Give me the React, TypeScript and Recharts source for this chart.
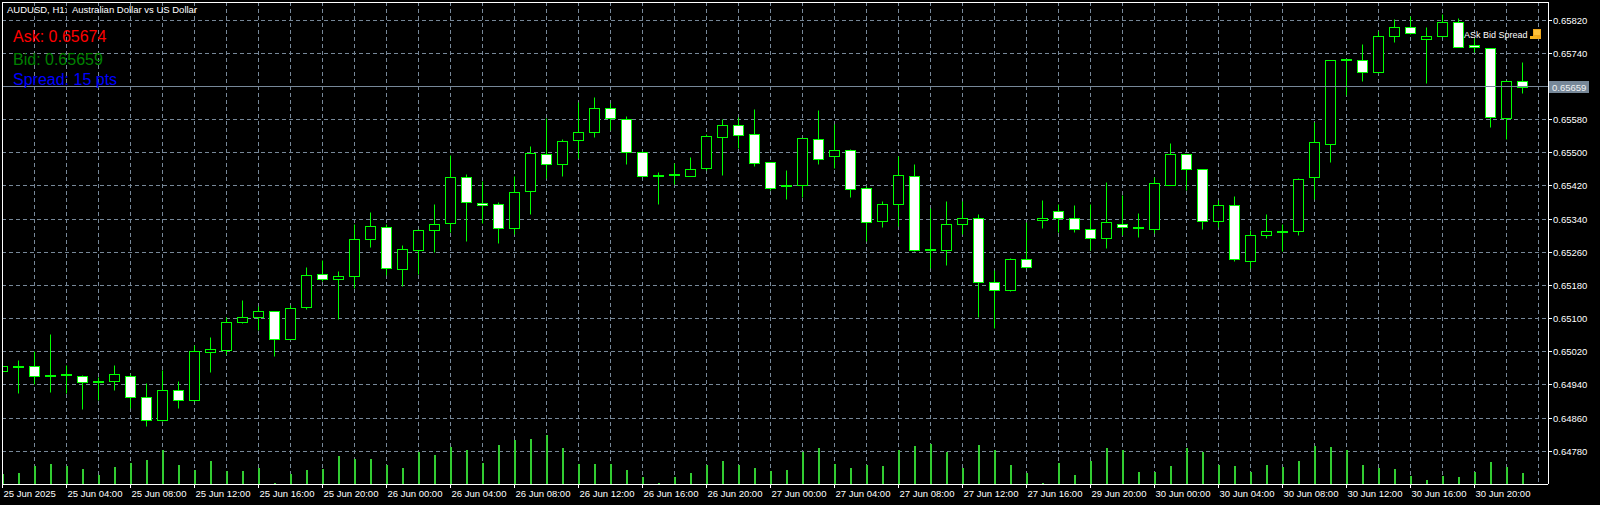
import React from 'react';
import { ComposedChart, Bar, XAxis, YAxis, CartesianGrid, ReferenceLine } from 'recharts';

// AUDUSD H1, 25 Jun 00:00 .. 30 Jun 23:00 (96 bars)
const OPEN = [
  0.64974, 0.64984, 0.64985, 0.64962, 0.64964, 0.64962, 0.64948, 0.64949, 0.64962, 0.64912, 0.64855, 0.64927,
  0.64903, 0.65019, 0.65025, 0.65091, 0.65103, 0.65118, 0.65052, 0.65127, 0.65207, 0.65195, 0.65203, 0.65293,
  0.65320, 0.65219, 0.65265, 0.65313, 0.65330, 0.65441, 0.65378, 0.65376, 0.65318, 0.65407, 0.65496, 0.65472,
  0.65530, 0.65549, 0.65607, 0.65581, 0.65501, 0.65444, 0.65446, 0.65445, 0.65462, 0.65537, 0.65566, 0.65544,
  0.65477, 0.65420, 0.65421, 0.65532, 0.65491, 0.65506, 0.65414, 0.65335, 0.65376, 0.65443, 0.65265, 0.65266,
  0.65327, 0.65342, 0.65188, 0.65168, 0.65243, 0.65337, 0.65359, 0.65342, 0.65315, 0.65294, 0.65329, 0.65319,
  0.65317, 0.65423, 0.65496, 0.65460, 0.65335, 0.65373, 0.65240, 0.65301, 0.65310, 0.65311, 0.65442, 0.65522,
  0.65723, 0.65723, 0.65694, 0.65781, 0.65802, 0.65773, 0.65781, 0.65814, 0.65759, 0.65752, 0.65583, 0.65672,
];
const HIGH = [
  0.64991, 0.65000, 0.65022, 0.65063, 0.64988, 0.64963, 0.64960, 0.64988, 0.64967, 0.64944, 0.64975, 0.64950,
  0.65036, 0.65056, 0.65105, 0.65145, 0.65130, 0.65119, 0.65133, 0.65225, 0.65241, 0.65216, 0.65327, 0.65357,
  0.65327, 0.65278, 0.65316, 0.65376, 0.65495, 0.65448, 0.65432, 0.65381, 0.65443, 0.65516, 0.65584, 0.65532,
  0.65622, 0.65634, 0.65619, 0.65589, 0.65504, 0.65453, 0.65475, 0.65489, 0.65544, 0.65581, 0.65587, 0.65605,
  0.65478, 0.65458, 0.65536, 0.65603, 0.65569, 0.65509, 0.65420, 0.65384, 0.65492, 0.65473, 0.65366, 0.65384,
  0.65384, 0.65352, 0.65217, 0.65245, 0.65333, 0.65386, 0.65376, 0.65374, 0.65376, 0.65429, 0.65398, 0.65355,
  0.65442, 0.65523, 0.65497, 0.65461, 0.65385, 0.65396, 0.65314, 0.65352, 0.65328, 0.65440, 0.65573, 0.65724,
  0.65724, 0.65762, 0.65794, 0.65822, 0.65829, 0.65803, 0.65834, 0.65826, 0.65777, 0.65753, 0.65675, 0.65719,
];
const LOW = [
  0.64969, 0.64921, 0.64942, 0.64924, 0.64921, 0.64883, 0.64904, 0.64929, 0.64885, 0.64840, 0.64854, 0.64885,
  0.64902, 0.64972, 0.65015, 0.65090, 0.65073, 0.65011, 0.65051, 0.65123, 0.65191, 0.65098, 0.65173, 0.65272,
  0.65206, 0.65179, 0.65208, 0.65261, 0.65308, 0.65286, 0.65331, 0.65283, 0.65303, 0.65353, 0.65440, 0.65444,
  0.65487, 0.65539, 0.65555, 0.65474, 0.65444, 0.65377, 0.65424, 0.65444, 0.65458, 0.65446, 0.65511, 0.65468,
  0.65410, 0.65389, 0.65394, 0.65474, 0.65464, 0.65394, 0.65287, 0.65322, 0.65324, 0.65264, 0.65221, 0.65230,
  0.65305, 0.65105, 0.65077, 0.65167, 0.65223, 0.65319, 0.65308, 0.65310, 0.65265, 0.65271, 0.65302, 0.65298,
  0.65307, 0.65422, 0.65409, 0.65317, 0.65322, 0.65240, 0.65221, 0.65295, 0.65264, 0.65301, 0.65389, 0.65478,
  0.65639, 0.65673, 0.65693, 0.65768, 0.65787, 0.65669, 0.65780, 0.65755, 0.65742, 0.65563, 0.65534, 0.65645,
];
const CLOSE = [
  0.64986, 0.64984, 0.64961, 0.64962, 0.64964, 0.64947, 0.64948, 0.64966, 0.64910, 0.64855, 0.64927, 0.64905,
  0.65021, 0.65026, 0.65091, 0.65103, 0.65118, 0.65050, 0.65125, 0.65204, 0.65195, 0.65202, 0.65291, 0.65323,
  0.65221, 0.65267, 0.65313, 0.65327, 0.65441, 0.65381, 0.65373, 0.65318, 0.65405, 0.65499, 0.65472, 0.65528,
  0.65549, 0.65607, 0.65583, 0.65501, 0.65445, 0.65444, 0.65446, 0.65460, 0.65540, 0.65566, 0.65542, 0.65475,
  0.65414, 0.65420, 0.65535, 0.65486, 0.65506, 0.65412, 0.65332, 0.65376, 0.65446, 0.65265, 0.65265, 0.65327,
  0.65342, 0.65188, 0.65168, 0.65243, 0.65224, 0.65342, 0.65342, 0.65315, 0.65294, 0.65332, 0.65320, 0.65319,
  0.65426, 0.65496, 0.65460, 0.65335, 0.65373, 0.65243, 0.65301, 0.65311, 0.65310, 0.65436, 0.65525, 0.65723,
  0.65723, 0.65694, 0.65781, 0.65802, 0.65788, 0.65781, 0.65814, 0.65756, 0.65754, 0.65585, 0.65673, 0.65659,
];
const VOLUME = [
  1000, 1150, 1800, 2000, 1800, 1470, 950, 1670, 2100, 2400, 3400, 1880,
  1450, 2300, 1280, 1260, 1570, 150, 1050, 1360, 1470, 2800, 2500, 2500,
  1920, 1650, 3200, 2900, 3700, 3400, 2080, 3900, 4400, 4500, 4900, 3600,
  1970, 1970, 1970, 1440, 700, 150, 700, 1110, 1900, 2300, 1900, 1650,
  1330, 1440, 3200, 3600, 1970, 1650, 1900, 1760, 3400, 3800, 4000, 3200,
  1650, 3900, 3400, 1860, 1110, 100, 2080, 900, 2300, 3600, 3400, 1200,
  1200, 1800, 3600, 3200, 1930, 1800, 1200, 1900, 1730, 2300, 3800, 3700,
  3400, 1900, 1600, 1500, 800, 400, 800, 700, 1200, 2200, 1730, 1100,
];

const TICK_IDX = [0, 4, 8, 12, 16, 20, 24, 28, 32, 36, 40, 44, 48, 52, 56, 60, 64, 68, 72, 76, 80, 84, 88, 92];
const TICK_LABELS = [
  '25 Jun 2025', '25 Jun 04:00', '25 Jun 08:00', '25 Jun 12:00', '25 Jun 16:00', '25 Jun 20:00',
  '26 Jun 00:00', '26 Jun 04:00', '26 Jun 08:00', '26 Jun 12:00', '26 Jun 16:00', '26 Jun 20:00',
  '27 Jun 00:00', '27 Jun 04:00', '27 Jun 08:00', '27 Jun 12:00', '27 Jun 16:00', '29 Jun 20:00',
  '30 Jun 00:00', '30 Jun 04:00', '30 Jun 08:00', '30 Jun 12:00', '30 Jun 16:00', '30 Jun 20:00',
];
// 0.65660 is hidden under the bid tag
const PRICE_TICKS = [
  0.64780, 0.64860, 0.64940, 0.65020, 0.65100, 0.65180, 0.65260,
  0.65340, 0.65420, 0.65500, 0.65580, 0.65740, 0.65820,
];

const ASK = 0.65674;
const BID = 0.65659;
const SPREAD_PTS = 15;

const data = OPEN.map((o, i) => ({
  idx: i,
  open: o,
  high: HIGH[i],
  low: LOW[i],
  close: CLOSE[i],
  vol: VOLUME[i],
}));

// vertical grid every second bar
const GRID_IDX = Array.from({ length: 49 }, (_, k) => k * 2);

const X_MIN = -0.03125;
const X_MAX = 96.59375;
const Y_MIN = 0.647013;
const Y_MAX = 0.658634;
const VOL_MAX = 48200;

const green = '#00ff00';
const gridColor = '#778899';
const font = '"Liberation Sans", Arial, sans-serif';

const Candle = (props: any) => {
  const { x, y, width, height, payload } = props;
  if (x == null || !payload) return null;
  const cx = Math.floor(x + width / 2) + 0.5;
  const top = Math.min(y, y + height);
  const bot = Math.max(y, y + height);
  const { open, close, high, low } = payload;
  const toPx = (p: number) => top + ((high - p) / (high - low)) * (bot - top);
  const snap = (v: number) => Math.round(v) + 0.5;
  const yO = snap(toPx(open));
  const yC = snap(toPx(close));
  const bTop = Math.min(yO, yC);
  const bBot = Math.max(yO, yC);
  const bull = close > open;
  return (
    <g>
      <line x1={cx} x2={cx} y1={snap(top)} y2={snap(bot)} stroke={green} strokeWidth={1} />
      {bBot - bTop < 1 ? (
        <line x1={cx - 5.5} x2={cx + 5.5} y1={Math.round(toPx(open))} y2={Math.round(toPx(open))} stroke={green} strokeWidth={2} />
      ) : (
        <rect x={cx - 5} y={bTop} width={10} height={bBot - bTop} fill={bull ? '#000000' : '#ffffff'} stroke={green} strokeWidth={1} />
      )}
    </g>
  );
};

const VolBar = (props: any) => {
  const { x, y, width, height } = props;
  if (x == null) return null;
  const y0 = Math.round(y);
  const y1 = Math.round(y + height);
  return <rect x={Math.round(x + width / 2) - 1} y={y0} width={2} height={Math.max(1, y1 - y0)} fill="#32cd32" />;
};

const XTick = (props: any) => {
  const { x, y, payload } = props;
  const label = TICK_LABELS[TICK_IDX.indexOf(payload.value)];
  return (
    <text x={x + 1} y={y + 7} fill="#ffffff" fontSize={9.5} fontFamily={font}>
      {label}
    </text>
  );
};

const YTick = (props: any) => {
  const { x, y, payload } = props;
  return (
    <text x={x - 1} y={y + 3.5} fill="#ffffff" fontSize={9.5} fontFamily={font}>
      {Number(payload.value).toFixed(5)}
    </text>
  );
};

const BidTag = (props: any) => {
  const vb = props.viewBox;
  if (!vb) return null;
  const right = vb.x + vb.width;
  const yy = Math.round(vb.y);
  return (
    <g>
      <rect x={right + 1} y={yy - 6} width={40} height={12} fill="#778899" />
      <text x={right + 4} y={yy + 3.5} fill="#f2f2f2" fontSize={9.5} fontFamily={font}>
        {BID.toFixed(5)}
      </text>
    </g>
  );
};

const verticalGrid = (args: any) => {
  const xa = args && args.xAxis;
  if (xa && typeof xa.scale === 'function') return GRID_IDX.map((g) => xa.scale(g));
  const off = args.offset;
  return GRID_IDX.map((g) => off.left + ((g - X_MIN) / (X_MAX - X_MIN)) * off.width);
};

export default function App() {
  return (
    <div style={{ position: 'fixed', left: 0, top: 0, width: 1600, height: 505, background: '#000000', overflow: 'hidden' }}>
      <style>{`.recharts-cartesian-grid line, .recharts-reference-line line, .recharts-cartesian-axis line { shape-rendering: crispEdges; }`}</style>
      <ComposedChart width={1600} height={505} data={data} margin={{ top: 2, right: 0, bottom: 0, left: 2 }}>
        <CartesianGrid
          stroke={gridColor}
          strokeDasharray="4 3"
          verticalCoordinatesGenerator={verticalGrid}
        />
        <XAxis
          dataKey="idx"
          type="number"
          domain={[X_MIN, X_MAX]}
          allowDataOverflow
          ticks={TICK_IDX}
          interval={0}
          height={21}
          tickSize={4}
          stroke="#ffffff"
          axisLine={{ stroke: '#ffffff' }}
          tickLine={{ stroke: '#ffffff' }}
          tick={<XTick />}
        />
        <XAxis xAxisId="vx" dataKey="idx" type="number" domain={[X_MIN, X_MAX]} allowDataOverflow hide />
        <YAxis
          orientation="right"
          type="number"
          domain={[Y_MIN, Y_MAX]}
          allowDataOverflow
          ticks={PRICE_TICKS}
          interval={0}
          width={52}
          tickSize={4}
          axisLine={{ stroke: '#ffffff' }}
          tickLine={{ stroke: '#ffffff' }}
          tick={<YTick />}
        />
        <YAxis yAxisId="vol" type="number" domain={[0, VOL_MAX]} hide />
        <Bar
          xAxisId="vx"
          yAxisId="vol"
          dataKey="vol"
          barSize={2}
          shape={<VolBar />}
          isAnimationActive={false}
        />
        <Bar
          dataKey={(d: any) => [d.low, d.high]}
          barSize={11}
          shape={<Candle />}
          isAnimationActive={false}
        />
        <ReferenceLine y={BID} stroke="#778899" label={<BidTag />} />
      </ComposedChart>
      <svg width={1600} height={505} style={{ position: 'absolute', left: 0, top: 0, pointerEvents: 'none' }}>
        <line x1={2} y1={2.5} x2={1548} y2={2.5} stroke="#ffffff" />
        <line x1={2.5} y1={2} x2={2.5} y2={484} stroke="#ffffff" />
        <text x={7} y={13} fill="#ffffff" fontSize={9.5} fontFamily={font} style={{ whiteSpace: 'pre' }}>
          {'AUDUSD, H1:  Australian Dollar vs US Dollar'}
        </text>
        <text x={13} y={42} fill="#ff0000" fontSize={16} fontFamily={font}>
          {`Ask: ${ASK.toFixed(5)}`}
        </text>
        <text x={13} y={64.5} fill="#008000" fontSize={16} fontFamily={font}>
          {`Bid: ${BID.toFixed(5)}`}
        </text>
        <text x={13} y={85} fill="#0000ff" fontSize={16} fontFamily={font}>
          {`Spread: ${SPREAD_PTS} pts`}
        </text>
        <text x={1464} y={37.5} fill="#ffffff" fontSize={9} fontFamily={font}>
          ASk Bid Spread
        </text>
        <rect x={1533} y={29} width={8} height={10} fill="#f0a81c" />
        <rect x={1534} y={30} width={6} height={5} fill="#ffc23a" />
        <rect x={1530} y={36} width={7} height={3} fill="#f5b21e" />
      </svg>
    </div>
  );
}
